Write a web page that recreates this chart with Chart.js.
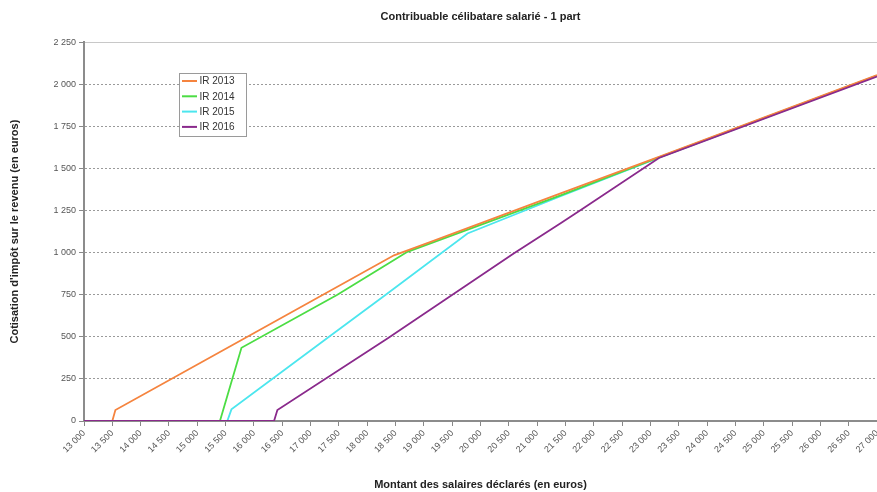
<!DOCTYPE html>
<html>
<head>
<meta charset="utf-8">
<script src="https://cdn.jsdelivr.net/npm/chart.js@4.4.1/dist/chart.umd.min.js"></script>
<style>
  html, body { margin: 0; padding: 0; background: #fff; }
  #wrap { width: 877px; height: 492px; position: relative; }
</style>
</head>
<body>
<div id="wrap"><canvas id="c" width="877" height="492"></canvas></div>
<script>
// ---- data ----
const chartTitle = "Contribuable célibatare salarié - 1 part";
const xTitle = "Montant des salaires déclarés (en euros)";
const yTitle = "Cotisation d'impôt sur le revenu (en euros)";
const seriesNames = ["IR 2013", "IR 2014", "IR 2015", "IR 2016"];

const x2013 = [13000, 13500, 13554, 15845, 18473, 19121, 21414, 23150, 27000];
const y2013 = [0, 0, 65, 493, 984, 1064, 1352, 1569, 2054];

const x2014 = [13000, 15400, 15780, 17473, 18330, 18710, 21414, 23150, 27000];
const y2014 = [0, 0, 435, 750, 926, 1005, 1340, 1566, 2052];

const x2015 = [13000, 15530, 15603, 17326, 18327, 19770, 21414, 23150, 27000];
const y2015 = [0, 0, 69, 500, 750, 1114, 1335, 1564, 2050];

const x2016 = [13000, 16355, 16414, 18357, 20592, 21414, 21770, 23150, 27000];
const y2016 = [0, 0, 65, 490, 996, 1174, 1253, 1562, 2046];

const seriesColors = ["#F5843F", "#4CDD44", "#4CE6EE", "#8A2A8C"];
const seriesOrder = [1, 2, 3, 0];

const xMin = 13000, xMax = 27000, xStep = 500;
const yMin = 0, yMax = 2250, yStep = 250;

function fmt(v) { return String(v).replace(/\B(?=(\d{3})+(?!\d))/g, ' '); }
function pts(xs, ys) { return xs.map((x, i) => ({x: x, y: ys[i]})); }

const FONT = "'Liberation Sans', Arial, sans-serif";

const legendPlugin = {
  id: 'boxLegend',
  afterDatasetsDraw(chart) {
    const ctx = chart.ctx;
    const bx = 179, by = 73, bw = 67, bh = 63;
    ctx.save();
    ctx.fillStyle = '#fff';
    ctx.fillRect(bx, by, bw, bh);
    ctx.strokeStyle = '#9a9a9a';
    ctx.lineWidth = 1;
    ctx.strokeRect(bx + 0.5, by + 0.5, bw, bh);
    ctx.font = "10px " + FONT;
    ctx.textBaseline = 'middle';
    chart.data.datasets.forEach((ds, i) => {
      const yy = 81 + i * 15.3;
      ctx.strokeStyle = ds.borderColor;
      ctx.lineWidth = 2;
      ctx.beginPath();
      ctx.moveTo(182, yy);
      ctx.lineTo(197, yy);
      ctx.stroke();
      ctx.fillStyle = '#333';
      ctx.fillText(ds.label, 199.5, yy + 0.5);
    });
    ctx.restore();
  }
};

new Chart(document.getElementById('c'), {
  type: 'line',
  data: {
    datasets: seriesNames.map((name, i) => ({
      label: name,
      data: pts([x2013, x2014, x2015, x2016][i], [y2013, y2014, y2015, y2016][i]),
      borderColor: seriesColors[i],
      backgroundColor: seriesColors[i],
      borderWidth: 1.8,
      pointRadius: 0,
      tension: 0,
      fill: false,
      order: seriesOrder[i]
    }))
  },
  options: {
    responsive: false,
    animation: false,
    layout: { padding: 0 },
    plugins: {
      legend: { display: false },
      tooltip: { enabled: false },
      title: {
        display: true,
        text: chartTitle,
        fullSize: false,
        color: '#222',
        font: { family: FONT, size: 11, weight: 'bold' },
        padding: { top: 10, bottom: 19 }
      }
    },
    scales: {
      x: {
        type: 'linear',
        min: xMin, max: xMax,
        afterBuildTicks(scale) {
          const t = [];
          for (let v = xMin; v <= xMax; v += xStep) t.push({value: v});
          scale.ticks = t;
        },
        afterFit(scale) { scale.height = 71; scale.paddingRight = 0; scale.paddingLeft = 0; },
        ticks: {
          autoSkip: false,
          minRotation: 45, maxRotation: 45,
          color: '#555',
          font: { family: FONT, size: 9 },
          padding: 2,
          callback: v => fmt(v)
        },
        grid: { drawOnChartArea: false, drawTicks: true, tickLength: 5, tickColor: '#888', tickWidth: 1 },
        border: { display: true, color: '#8c8c8c', width: 2 },
        title: {
          display: true, text: xTitle, color: '#222',
          font: { family: FONT, size: 11, weight: 'bold' },
          padding: { top: 0, bottom: 0 }
        }
      },
      y: {
        type: 'linear',
        min: yMin, max: yMax,
        afterBuildTicks(scale) {
          const t = [];
          for (let v = yMin; v <= yMax; v += yStep) t.push({value: v});
          scale.ticks = t;
        },
        afterFit(scale) { scale.width = 84; },
        ticks: {
          color: '#555',
          font: { family: FONT, size: 9 },
          padding: 3,
          callback: v => fmt(v)
        },
        grid: {
          drawOnChartArea: true, drawTicks: true, tickLength: 5,
          color: ctx => (ctx.tick && ctx.tick.value === yMax) ? '#c8c8c8' : '#9a9a9a',
          lineWidth: 1,
          tickColor: '#888', tickWidth: 1, tickBorderDash: []
        },
        border: {
          display: true, color: '#8c8c8c', width: 2,
          dash: ctx => (ctx.tick && ctx.tick.value === yMax) ? [] : [2, 2]
        },
        title: {
          display: true, text: yTitle, color: '#222',
          font: { family: FONT, size: 11, weight: 'bold' },
          padding: { top: 8, bottom: 0 }
        }
      }
    }
  },
  plugins: [legendPlugin]
});
</script>
</body>
</html>
